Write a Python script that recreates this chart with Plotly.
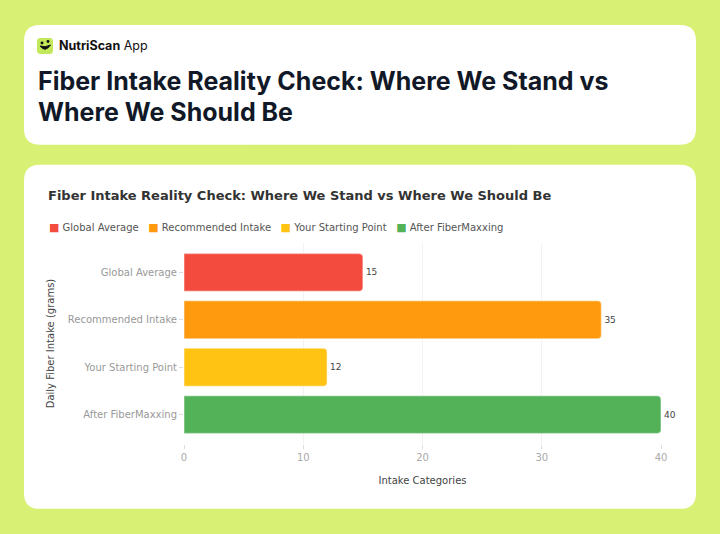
import plotly.graph_objects as go

# ---- data ----
categories = ["Global Average", "Recommended Intake", "Your Starting Point", "After FiberMaxxing"]
values = [15, 35, 12, 40]
colors = ["#F44B3F", "#FF9A0E", "#FFC314", "#53B157"]
x_ticks = [0, 10, 20, 30, 40]

chart_title = "Fiber Intake Reality Check: Where We Stand vs Where We Should Be"
header_lines = ["Fiber Intake Reality Check: Where We Stand vs", "Where We Should Be"]

# ---- layout geometry ----
W, H = 720, 534
L, R, T, B = 184, 59, 242.5, 90
pw = W - L - R
ph = H - T - B


def px(x):
    return (x - L) / pw


def py(y):
    return 1 - (y - T) / ph


def rrect(x0, y0, x1, y1, r):
    """rounded rectangle path in paper coords from pixel coords"""
    def P(x, y):
        return f"{px(x):.5f},{py(y):.5f}"
    return (f"M {P(x0 + r, y0)} L {P(x1 - r, y0)} Q {P(x1, y0)} {P(x1, y0 + r)} "
            f"L {P(x1, y1 - r)} Q {P(x1, y1)} {P(x1 - r, y1)} "
            f"L {P(x0 + r, y1)} Q {P(x0, y1)} {P(x0, y1 - r)} "
            f"L {P(x0, y0 + r)} Q {P(x0, y0)} {P(x0 + r, y0)} Z")


fig = go.Figure()
for cat, val, col in zip(categories, values, colors):
    fig.add_trace(go.Bar(
        y=[cat], x=[val], orientation="h", name=cat, showlegend=False,
        marker=dict(color=col, line=dict(color="rgba(255,255,255,0.35)", width=1.5), cornerradius=4),
        text=[str(val)], textposition="outside", cliponaxis=False,
        textfont=dict(size=9, color="#444", family="DejaVu Sans"),
    ))

shapes = [
    dict(type="path", path=rrect(24, 24, 696, 144, 16), xref="paper", yref="paper",
         fillcolor="white", line=dict(width=0), layer="below"),
    dict(type="path", path=rrect(24, 164, 696, 509, 16), xref="paper", yref="paper",
         fillcolor="white", line=dict(width=0), layer="below"),
    # logo tile
    dict(type="path", path=rrect(37, 37, 53, 53, 3.5), xref="paper", yref="paper",
         fillcolor="#C3E85C", line=dict(width=0), layer="above"),
    dict(type="circle", xref="paper", yref="paper", x0=px(40.5), x1=px(43.5), y0=py(43.5), y1=py(40.5),
         fillcolor="#111", line=dict(width=0)),
    dict(type="circle", xref="paper", yref="paper", x0=px(46.5), x1=px(49.5), y0=py(42), y1=py(39),
         fillcolor="#111", line=dict(width=0)),
    dict(type="path", xref="paper", yref="paper",
         path=f"M {px(40):.5f},{py(45):.5f} Q {px(45):.5f},{py(52):.5f} {px(50.5):.5f},{py(44):.5f} "
              f"Q {px(45):.5f},{py(47):.5f} {px(40):.5f},{py(45):.5f} Z",
         fillcolor="#111", line=dict(color="#111", width=1)),
]

# legend built as one rich-text line
sep = "&nbsp;&nbsp;&nbsp;"
legend_text = sep.join(
    f'<span style="color:{c};font-size:11px">■</span>&nbsp;{n}' for n, c in zip(categories, colors)
)

annotations = [
    dict(text="<b>NutriScan</b> App", xref="paper", yref="paper", x=px(56.5), y=py(45),
         xanchor="left", yanchor="middle", showarrow=False,
         font=dict(family="Inter", size=12.5, color="#111")),
    dict(text=f"<b>{header_lines[0]}</b>", xref="paper", yref="paper", x=px(36), y=py(80),
         xanchor="left", yanchor="middle", align="left", showarrow=False,
         font=dict(family="Inter", size=25, color="#111827")),
    dict(text=f"<b>{header_lines[1]}</b>", xref="paper", yref="paper", x=px(36), y=py(111),
         xanchor="left", yanchor="middle", align="left", showarrow=False,
         font=dict(family="Inter", size=25, color="#111827")),
    dict(text=legend_text, xref="paper", yref="paper", x=px(47), y=py(227),
         xanchor="left", yanchor="middle", showarrow=False,
         font=dict(family="DejaVu Sans", size=10, color="#555")),
]

fig.update_layout(
    width=W, height=H,
    margin=dict(l=L, r=R, t=T, b=B),
    paper_bgcolor="#D8F074",
    plot_bgcolor="rgba(0,0,0,0)",
    font=dict(family="DejaVu Sans", color="#444"),
    barmode="overlay", bargap=0.2,
    showlegend=False,
    title=dict(text=f"<b>{chart_title}</b>", xref="container", yref="container",
               x=48 / W, y=1 - 195 / H, xanchor="left", yanchor="middle",
               font=dict(family="DejaVu Sans", size=13, color="#333")),
    xaxis=dict(range=[0, 40], tickvals=x_ticks, showgrid=True, gridcolor="#F2F2F2", zeroline=False,
               ticks="outside", ticklen=4, tickcolor="#DDD", showline=False,
               tickfont=dict(size=10, color="#AAA"),
               title=dict(text="Intake Categories", font=dict(size=10, color="#444"), standoff=14)),
    yaxis=dict(range=[3.62, -0.62], showgrid=False, ticks="outside", ticklen=4, tickcolor="#DDD",
               tickfont=dict(size=10, color="#999"),
               title=dict(text="Daily Fiber Intake (grams)", font=dict(size=10, color="#444"), standoff=11)),
    shapes=shapes, annotations=annotations,
)

fig.write_html("out.html", post_script="document.body.style.margin='0px';",
               config={"displayModeBar": False})
